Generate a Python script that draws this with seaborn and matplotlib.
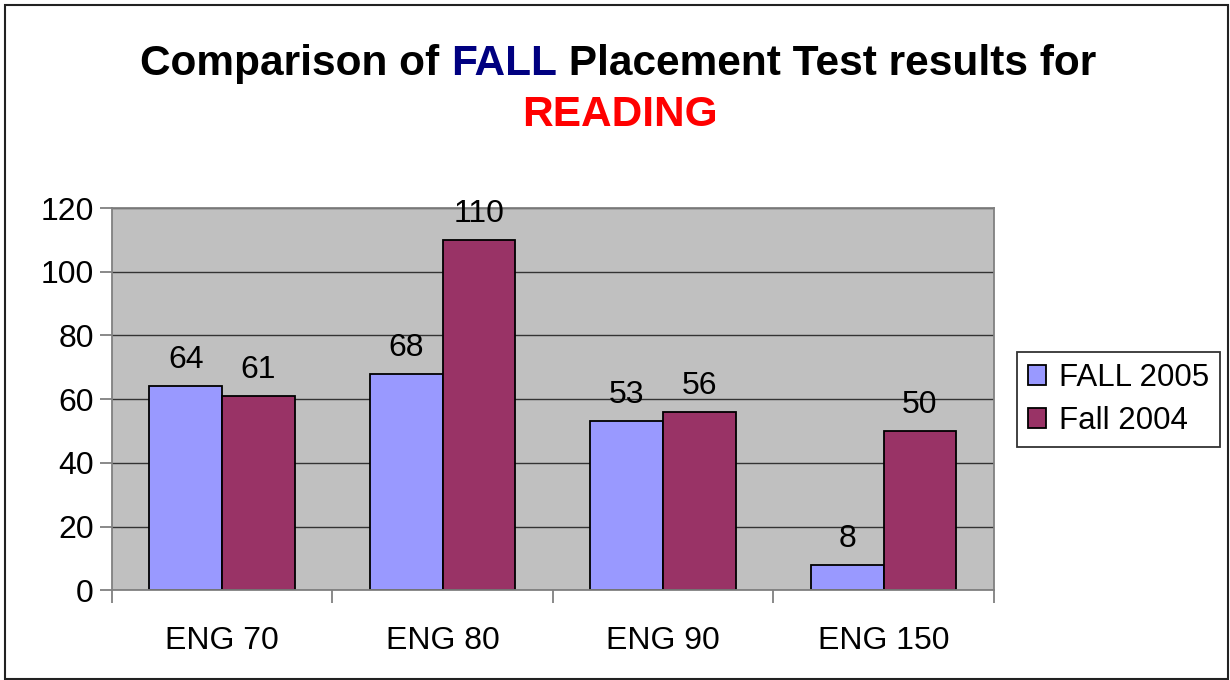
import pandas as pd
import matplotlib.pyplot as plt
import seaborn as sns

# chart data
courses = ['ENG 70', 'ENG 80', 'ENG 90', 'ENG 150']
fall_2005 = [64, 68, 53, 8]
fall_2004 = [61, 110, 56, 50]
series_names = ['FALL 2005', 'Fall 2004']

df = pd.DataFrame({
    'Course': courses * 2,
    'Count': fall_2005 + fall_2004,
    'Term': [series_names[0]] * 4 + [series_names[1]] * 4,
})

sns.set_style('white')
plt.rcParams['font.family'] = ['Liberation Sans', 'DejaVu Sans']
plt.rcParams['text.color'] = 'black'
plt.rcParams['xtick.color'] = 'black'
plt.rcParams['ytick.color'] = 'black'

fig = plt.figure(figsize=(12.3, 6.8), dpi=100)
ax = fig.add_axes([0.091, 0.132, 0.717, 0.562])

sns.barplot(data=df, x='Course', y='Count', hue='Term', order=courses,
            hue_order=series_names, palette=['#9999FF', '#993366'],
            width=0.66, edgecolor='black', linewidth=1.3, saturation=1,
            ax=ax, errorbar=None)

ax.set_facecolor('#C0C0C0')
ax.set_ylim(0, 120)
ax.set_xlim(-0.5, 3.5)
ax.set_yticks(range(0, 121, 20))
ax.yaxis.grid(True, color='#333333', linewidth=1)
ax.set_axisbelow(True)
ax.set_xlabel('')
ax.set_ylabel('')
for s in ax.spines.values():
    s.set_color('#808080')
    s.set_linewidth(1.3)

# ticks at category boundaries, labels centred
ax.set_xticks([-0.5, 0.5, 1.5, 2.5, 3.5])
ax.set_xticklabels([])
ax.set_xticks(range(4), minor=True)
ax.set_xticklabels(courses, minor=True)
ax.tick_params(axis='x', which='minor', length=0, labelsize=23, pad=26)
ax.tick_params(axis='x', which='major', length=9, color='#808080', width=1.3, direction='out')
ax.tick_params(axis='y', length=9, color='#808080', width=1.3, direction='out', labelsize=23, pad=4)
ax.tick_params(bottom=True, left=True, which='both')

for c in ax.containers:
    ax.bar_label(c, fontsize=23, padding=8)

leg = ax.legend(loc='center left', bbox_to_anchor=(1.026, 0.5), fontsize=22.5,
                frameon=True, fancybox=False, edgecolor='black',
                handlelength=0.6, handleheight=0.6, handletextpad=0.4,
                borderpad=0.35, labelspacing=0.42, borderaxespad=0)
leg.get_frame().set_linewidth(1.3)

# multi-coloured title
fig.canvas.draw()
r = fig.canvas.get_renderer()
parts = [('Comparison of ', 'black'), ('FALL', '#000080'),
         (' Placement Test results for', 'black')]
tprops = dict(fontsize=30.5, fontweight='bold')
texts = [fig.text(0, 0, p, color=c, **tprops) for p, c in parts]
widths = [t.get_window_extent(r).width for t in texts]
x = 140
for t, w in zip(texts, widths):
    t.set_position((x / 1230, 1 - 75 / 680))
    x += w
fig.text(620 / 1230, 1 - 126 / 680, 'READING', color='#FF0000', ha='center', **tprops)

# outer border
fig.patches.append(plt.Rectangle((0.004, 0.002), 0.994, 0.99, transform=fig.transFigure,
                                 fill=False, edgecolor='#222222', linewidth=1.5))

fig.savefig('out.png', dpi=100)
